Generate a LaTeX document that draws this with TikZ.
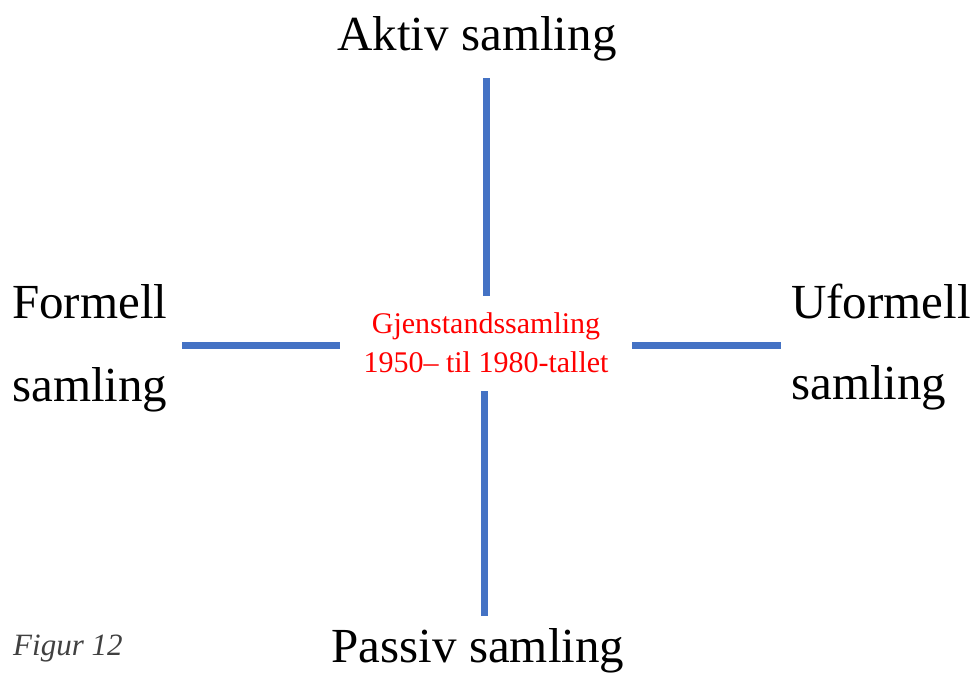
\documentclass[tikz,border=0pt]{standalone}
\usepackage{fontspec}
\setmainfont{Liberation Serif}
\definecolor{axisblue}{HTML}{4472C4}
\definecolor{centerred}{HTML}{FF0000}
\definecolor{captiongray}{HTML}{404040}
\begin{document}
\begin{tikzpicture}[x=1pt,y=-1pt,
  axisline/.style={draw=axisblue,line width=7pt},
  biglabel/.style={inner sep=0pt,font=\fontsize{49}{56}\selectfont},
  centerlabel/.style={inner sep=0pt,text=centerred,font=\fontsize{30}{34}\selectfont},
  caption/.style={inner sep=0pt,text=captiongray,font=\itshape\fontsize{31}{36}\selectfont}]
\useasboundingbox (0,0) rectangle (973,672);
% labels
\node[biglabel,anchor=base] (aktiv) at (477,50) {Aktiv samling};
\node[biglabel,anchor=base] (passiv) at (478,662) {Passiv samling};
\node[biglabel,anchor=base west] (formell1) at (12,318) {Formell};
\node[biglabel,anchor=base west] (formell2) at (12,401) {samling};
\node[biglabel,anchor=base west] (uformell1) at (791,318) {Uformell};
\node[biglabel,anchor=base west] (uformell2) at (791,399) {samling};
\node[centerlabel,anchor=base] (center1) at (486,333) {Gjenstandssamling};
\node[centerlabel,anchor=base] (center2) at (486,372) {1950– til 1980-tallet};
\node[caption,anchor=base west] (fig) at (13,655) {Figur 12};
% axis end points
\coordinate (topA) at (486,78);
\coordinate (topB) at (486,296);
\coordinate (botA) at (484,391);
\coordinate (botB) at (484,616);
\coordinate (leftA) at (182,345);
\coordinate (leftB) at (340,345);
\coordinate (rightA) at (632,345);
\coordinate (rightB) at (781,345);
\draw[axisline] (topA) -- (topB);
\draw[axisline] (botA) -- (botB);
\draw[axisline] (leftA) -- (leftB);
\draw[axisline] (rightA) -- (rightB);
\end{tikzpicture}
\end{document}
